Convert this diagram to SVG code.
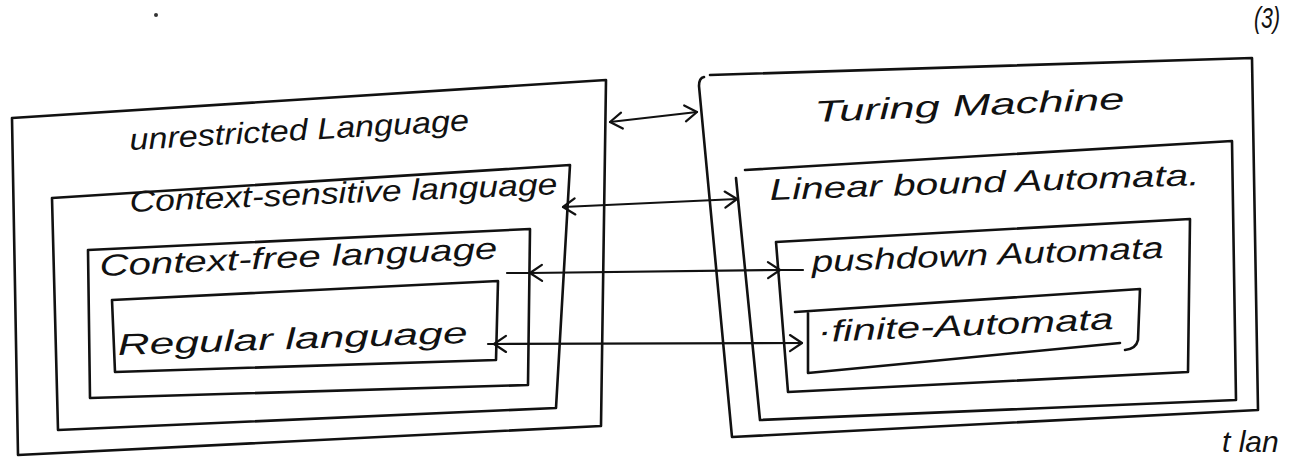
<svg xmlns="http://www.w3.org/2000/svg" width="1292" height="457" viewBox="0 0 1292 457">
  <defs>
    <marker id="open-arrow" viewBox="-15 -11 17 22" markerWidth="17" markerHeight="22" refX="0" refY="0" orient="auto-start-reverse" markerUnits="userSpaceOnUse">
      <path d="M-12,-8 L0,0 L-12,8" fill="none" stroke="#111" stroke-width="2.2" stroke-linecap="round" stroke-linejoin="round"/>
    </marker>
  </defs>
  <style>
    .box { fill: none; stroke: #111; stroke-width: 2.6; stroke-linejoin: round; stroke-linecap: round; }
    .link { fill: none; stroke: #111; stroke-width: 2.2; stroke-linecap: round; marker-start: url(#open-arrow); marker-end: url(#open-arrow); }
    .tail { fill: none; stroke: #111; stroke-width: 2.2; stroke-linecap: round; }
    .label { font-family: "Liberation Sans", "DejaVu Sans", sans-serif; font-size: 30px; fill: #111; font-style: italic; }
  </style>
  <rect width="1292" height="457" fill="#ffffff"/>

  <!-- page number and stray mark -->
  <text class="label" x="1254" y="28" font-size="22" textLength="26" lengthAdjust="spacingAndGlyphs">(3)</text>
  <circle cx="156" cy="15" r="2" fill="#333"/>

  <!-- Language hierarchy -->
  <g id="unrestricted-language">
    <path class="box" d="M12,118 L606,80 L601,426 L18,455 Z"/>
    <text class="label" x="130" y="150" textLength="340" lengthAdjust="spacingAndGlyphs" transform="rotate(-3.3 130 150)">unrestricted Language</text>
  </g>
  <g id="context-sensitive-language">
    <path class="box" d="M52,198 L570,165 L556,408 L58,430 Z"/>
    <text class="label" x="130" y="212" textLength="428" lengthAdjust="spacingAndGlyphs" transform="rotate(-2.4 130 212)">Context-sensitive language</text>
  </g>
  <g id="context-free-language">
    <path class="box" d="M88,250 L530,229 L528,385 L90,398 Z"/>
    <text class="label" x="100" y="276" textLength="398" lengthAdjust="spacingAndGlyphs" transform="rotate(-2.5 100 276)">Context-free language</text>
  </g>
  <g id="regular-language">
    <path class="box" d="M112,300 L498,281 L496,360 L115,372 Z"/>
    <text class="label" x="118" y="355" textLength="350" lengthAdjust="spacingAndGlyphs" transform="rotate(-2 118 355)">Regular language</text>
  </g>

  <!-- Machine hierarchy -->
  <g id="turing-machine">
    <path class="box" d="M710,75 L1252,58 L1258,410 L732,437 L699,86 Q699,78 704,77"/>
    <text class="label" x="815" y="122" textLength="310" lengthAdjust="spacingAndGlyphs" transform="rotate(-2.4 815 122)">Turing Machine</text>
  </g>
  <g id="linear-bound-automata">
    <path class="box" d="M745,170 L1232,141 L1236,400 L760,420 L736,178"/>
    <text class="label" x="770" y="200" textLength="430" lengthAdjust="spacingAndGlyphs" transform="rotate(-2 770 200)">Linear bound Automata.</text>
  </g>
  <g id="pushdown-automata">
    <path class="box" d="M776,242 L1190,219 L1188,372 L788,392 Z"/>
    <text class="label" x="812" y="272" textLength="352" lengthAdjust="spacingAndGlyphs" transform="rotate(-2.3 812 272)">pushdown Automata</text>
  </g>
  <g id="finite-automata">
    <path class="box" d="M795,312 L1140,289 L1138,340 Q1136,349 1125,350 M1120,343 L808,373 L808,313"/>
    <text class="label" x="818" y="342" textLength="296" lengthAdjust="spacingAndGlyphs" transform="rotate(-2.5 818 342)">·finite-Automata</text>
  </g>

  <!-- Correspondences between languages and machines -->
  <g id="connectors">
    <path class="link" d="M610,122 L697,112"/>
    <path class="link" d="M563,207 L737,199"/>
    <path class="link" d="M530,273 L780,270"/>
    <path class="link" d="M494,344 L802,343"/>
    <path class="tail" d="M507,273 L530,273 M780,270 L803,270"/>
    <path class="tail" d="M488,344 L494,344"/>
  </g>

  <!-- text continuing past the lower edge -->
  <text class="label" x="1222" y="452" font-size="26">t lan</text>
</svg>
